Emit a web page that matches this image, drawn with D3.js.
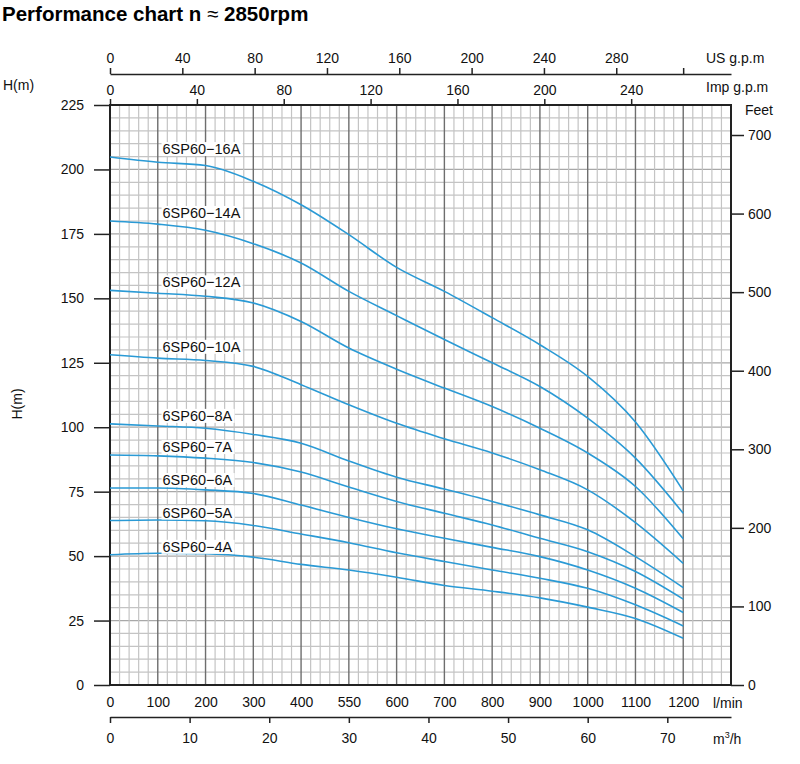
<!DOCTYPE html>
<html>
<head>
<meta charset="utf-8">
<script src="https://cdn.jsdelivr.net/npm/d3@7"></script>
<style>
  body { margin: 0; background: #fff; }
  svg { font-family: "Liberation Sans", Arial, sans-serif; }
  .axis text { font-size: 14px; fill: #111; }
  .axis line, .axis path { stroke: #222; stroke-width: 1.5; }
</style>
</head>
<body>
<svg id="chart" width="800" height="764"></svg>
<script>
// flow in l/min at each major gridline
const flow = [0, 100, 200, 300, 400, 500, 600, 700, 800, 900, 1000, 1100, 1200];

// head (m) per model
const models = ["6SP60−16A", "6SP60−14A", "6SP60−12A", "6SP60−10A", "6SP60−8A",
                "6SP60−7A", "6SP60−6A", "6SP60−5A", "6SP60−4A"];
const head16A = [204.8, 202.8, 201.5, 195.4, 186.3, 174.7, 162.0, 152.7, 142.5, 132.0, 119.7, 102.0, 75.3];
const head14A = [180.0, 178.8, 176.4, 171.2, 163.7, 152.7, 143.3, 134.0, 125.0, 115.8, 103.5, 88.0, 66.6];
const head12A = [153.1, 152.0, 150.8, 148.2, 141.0, 130.7, 122.5, 115.2, 108.0, 99.6, 90.0, 77.0, 56.7];
const head10A = [128.1, 126.8, 125.9, 123.6, 116.5, 108.7, 101.5, 95.5, 90.0, 83.5, 75.7, 63.0, 47.2];
const head8A  = [101.3, 100.5, 99.6, 97.2, 93.8, 86.9, 80.6, 76.0, 71.2, 66.0, 60.2, 49.8, 37.8];
const head7A  = [89.2, 88.9, 88.0, 86.3, 82.6, 76.8, 71.2, 66.6, 62.1, 56.9, 51.7, 44.0, 33.3];
const head6A  = [76.4, 76.4, 75.7, 74.3, 69.8, 65.0, 60.6, 56.9, 53.4, 49.8, 44.6, 37.5, 28.1];
const head5A  = [63.8, 64.0, 63.7, 61.9, 58.6, 55.2, 51.3, 47.9, 44.6, 41.4, 37.5, 31.1, 22.9];
const head4A  = [50.5, 51.1, 50.9, 49.6, 46.8, 44.6, 41.8, 38.6, 36.4, 33.8, 30.2, 25.8, 18.1];
const heads = [head16A, head14A, head12A, head10A, head8A, head7A, head6A, head5A, head4A];

// tick values and labels
const lpmTicks = [0, 100, 200, 300, 400, 500, 600, 700, 800, 900, 1000, 1100, 1200];
const lpmLabels = ["0", "100", "200", "300", "400", "550", "600", "700", "800", "900", "1000", "1100", "1200"];
const m3hTicks = [0, 10, 20, 30, 40, 50, 60, 70];
const usTicks = [0, 40, 80, 120, 160, 200, 240, 280, 317];
const usLabels = ["0", "40", "80", "120", "160", "200", "240", "280", ""];
const impTicks = [0, 40, 80, 120, 160, 200, 240];
const headTicks = [0, 25, 50, 75, 100, 125, 150, 175, 200, 225];
const feetTicks = [0, 100, 200, 300, 400, 500, 600, 700];

const LPM_MAX = 1300, H_MAX = 225;
const X0 = 110, X1 = 731, Y0 = 105, Y1 = 685;
const BLUE = "#2a9ad5";

const svg = d3.select("#chart");

const x = d3.scaleLinear().domain([0, LPM_MAX]).range([X0, X1]);
const y = d3.scaleLinear().domain([0, H_MAX]).range([Y1, Y0]);
const xM3h = d3.scaleLinear().domain([0, LPM_MAX * 60 / 1000]).range([X0, X1]);
const xUs = d3.scaleLinear().domain([0, LPM_MAX / 3.785]).range([X0, X1]);
const xImp = d3.scaleLinear().domain([0, LPM_MAX / 4.546]).range([X0, X1]);
const yFeet = d3.scaleLinear().domain([0, H_MAX / 0.3048]).range([Y1, Y0]);

// title
const title = svg.append("text")
  .attr("x", 2).attr("y", 21)
  .style("font-size", "20.5px").style("font-weight", "bold")
  .text("Performance chart n ");
title.append("tspan").style("font-weight", "normal").text("≈");
title.append("tspan").text(" 2850rpm");

// grid
const grid = svg.append("g");
grid.selectAll(".hline")
  .data(d3.range(5, H_MAX, 5))
  .join("line")
  .attr("x1", X0).attr("x2", X1)
  .attr("y1", d => y(d)).attr("y2", d => y(d))
  .attr("stroke", d => d % 25 === 0 ? "#a8a8a8" : "#c4c4c4")
  .attr("stroke-width", 1.2);

grid.selectAll(".vline")
  .data(d3.range(20, LPM_MAX, 20))
  .join("line")
  .attr("x1", d => x(d)).attr("x2", d => x(d))
  .attr("y1", Y0).attr("y2", Y1)
  .attr("stroke", d => d % 100 === 0 ? "#6e6e6e" : "#c4c4c4")
  .attr("stroke-width", d => d % 100 === 0 ? 1.4 : 1.2);

// frame
svg.append("rect")
  .attr("x", X0).attr("y", Y0)
  .attr("width", X1 - X0).attr("height", Y1 - Y0)
  .attr("fill", "none").attr("stroke", "#222").attr("stroke-width", 2);

// axes
svg.append("g").attr("class", "axis")
  .attr("transform", `translate(${X0},0)`)
  .call(d3.axisLeft(y).tickValues(headTicks).tickSize(16).tickPadding(10))
  .call(g => g.select(".domain").remove());

svg.append("g").attr("class", "axis")
  .attr("transform", `translate(${X1},0)`)
  .call(d3.axisRight(yFeet).tickValues(feetTicks).tickSize(13).tickPadding(4))
  .call(g => g.select(".domain").remove());

svg.append("g").attr("class", "axis")
  .attr("transform", `translate(0,${Y1})`)
  .call(d3.axisBottom(x).tickValues(lpmTicks).tickSize(0).tickPadding(12)
    .tickFormat((d, i) => lpmLabels[i]))
  .call(g => g.select(".domain").remove());

svg.append("g").attr("class", "axis")
  .attr("transform", "translate(0,717)")
  .call(d3.axisBottom(xM3h).tickValues(m3hTicks).tickSize(6).tickSizeOuter(0).tickPadding(10));

svg.append("g").attr("class", "axis")
  .attr("transform", "translate(0,74)")
  .call(d3.axisTop(xUs).tickValues(usTicks).tickSize(6).tickSizeOuter(0).tickPadding(5)
    .tickFormat((d, i) => usLabels[i]));

svg.append("g").attr("class", "axis")
  .attr("transform", `translate(0,${Y0})`)
  .call(d3.axisTop(xImp).tickValues(impTicks).tickSize(6).tickPadding(4))
  .call(g => g.select(".domain").remove());

// unit labels
const unit = (tx, ty, txt) => svg.append("text")
  .attr("x", tx).attr("y", ty)
  .style("font-size", "14px").attr("fill", "#111")
  .text(txt);
unit(706, 63, "US g.p.m");
unit(706, 92, "Imp g.p.m");
unit(745, 115, "Feet");
unit(713, 708, "l/min");
unit(3, 90, "H(m)");
const m3 = unit(713, 744, "m");
m3.append("tspan").attr("dy", -6).style("font-size", "9px").text("3");
m3.append("tspan").attr("dy", 6).text("/h");

svg.append("text")
  .attr("transform", "translate(22,404) rotate(-90)")
  .attr("text-anchor", "middle")
  .style("font-size", "14px").attr("fill", "#111")
  .text("H(m)");

// curves
const line = d3.line()
  .x(d => x(d[0]))
  .y(d => y(d[1]))
  .curve(d3.curveMonotoneX);

const curves = svg.append("g");
models.forEach((name, i) => {
  const pts = flow.map((q, j) => [q, heads[i][j]]);
  curves.append("path")
    .attr("d", line(pts))
    .attr("fill", "none")
    .attr("stroke", BLUE)
    .attr("stroke-width", 1.6);
});

// model labels on white boxes
const labels = svg.append("g");
models.forEach((name, i) => {
  const lg = labels.append("g");
  const t = lg.append("text")
    .attr("x", x(110))
    .attr("y", y(heads[i][0]) - 3)
    .style("font-size", "14.5px")
    .attr("fill", "#111")
    .text(name);
  const bb = t.node().getBBox();
  lg.insert("rect", "text")
    .attr("x", bb.x - 1).attr("y", bb.y + 1)
    .attr("width", bb.width + 3).attr("height", bb.height - 2)
    .attr("fill", "#fff");
});
</script>
</body>
</html>
